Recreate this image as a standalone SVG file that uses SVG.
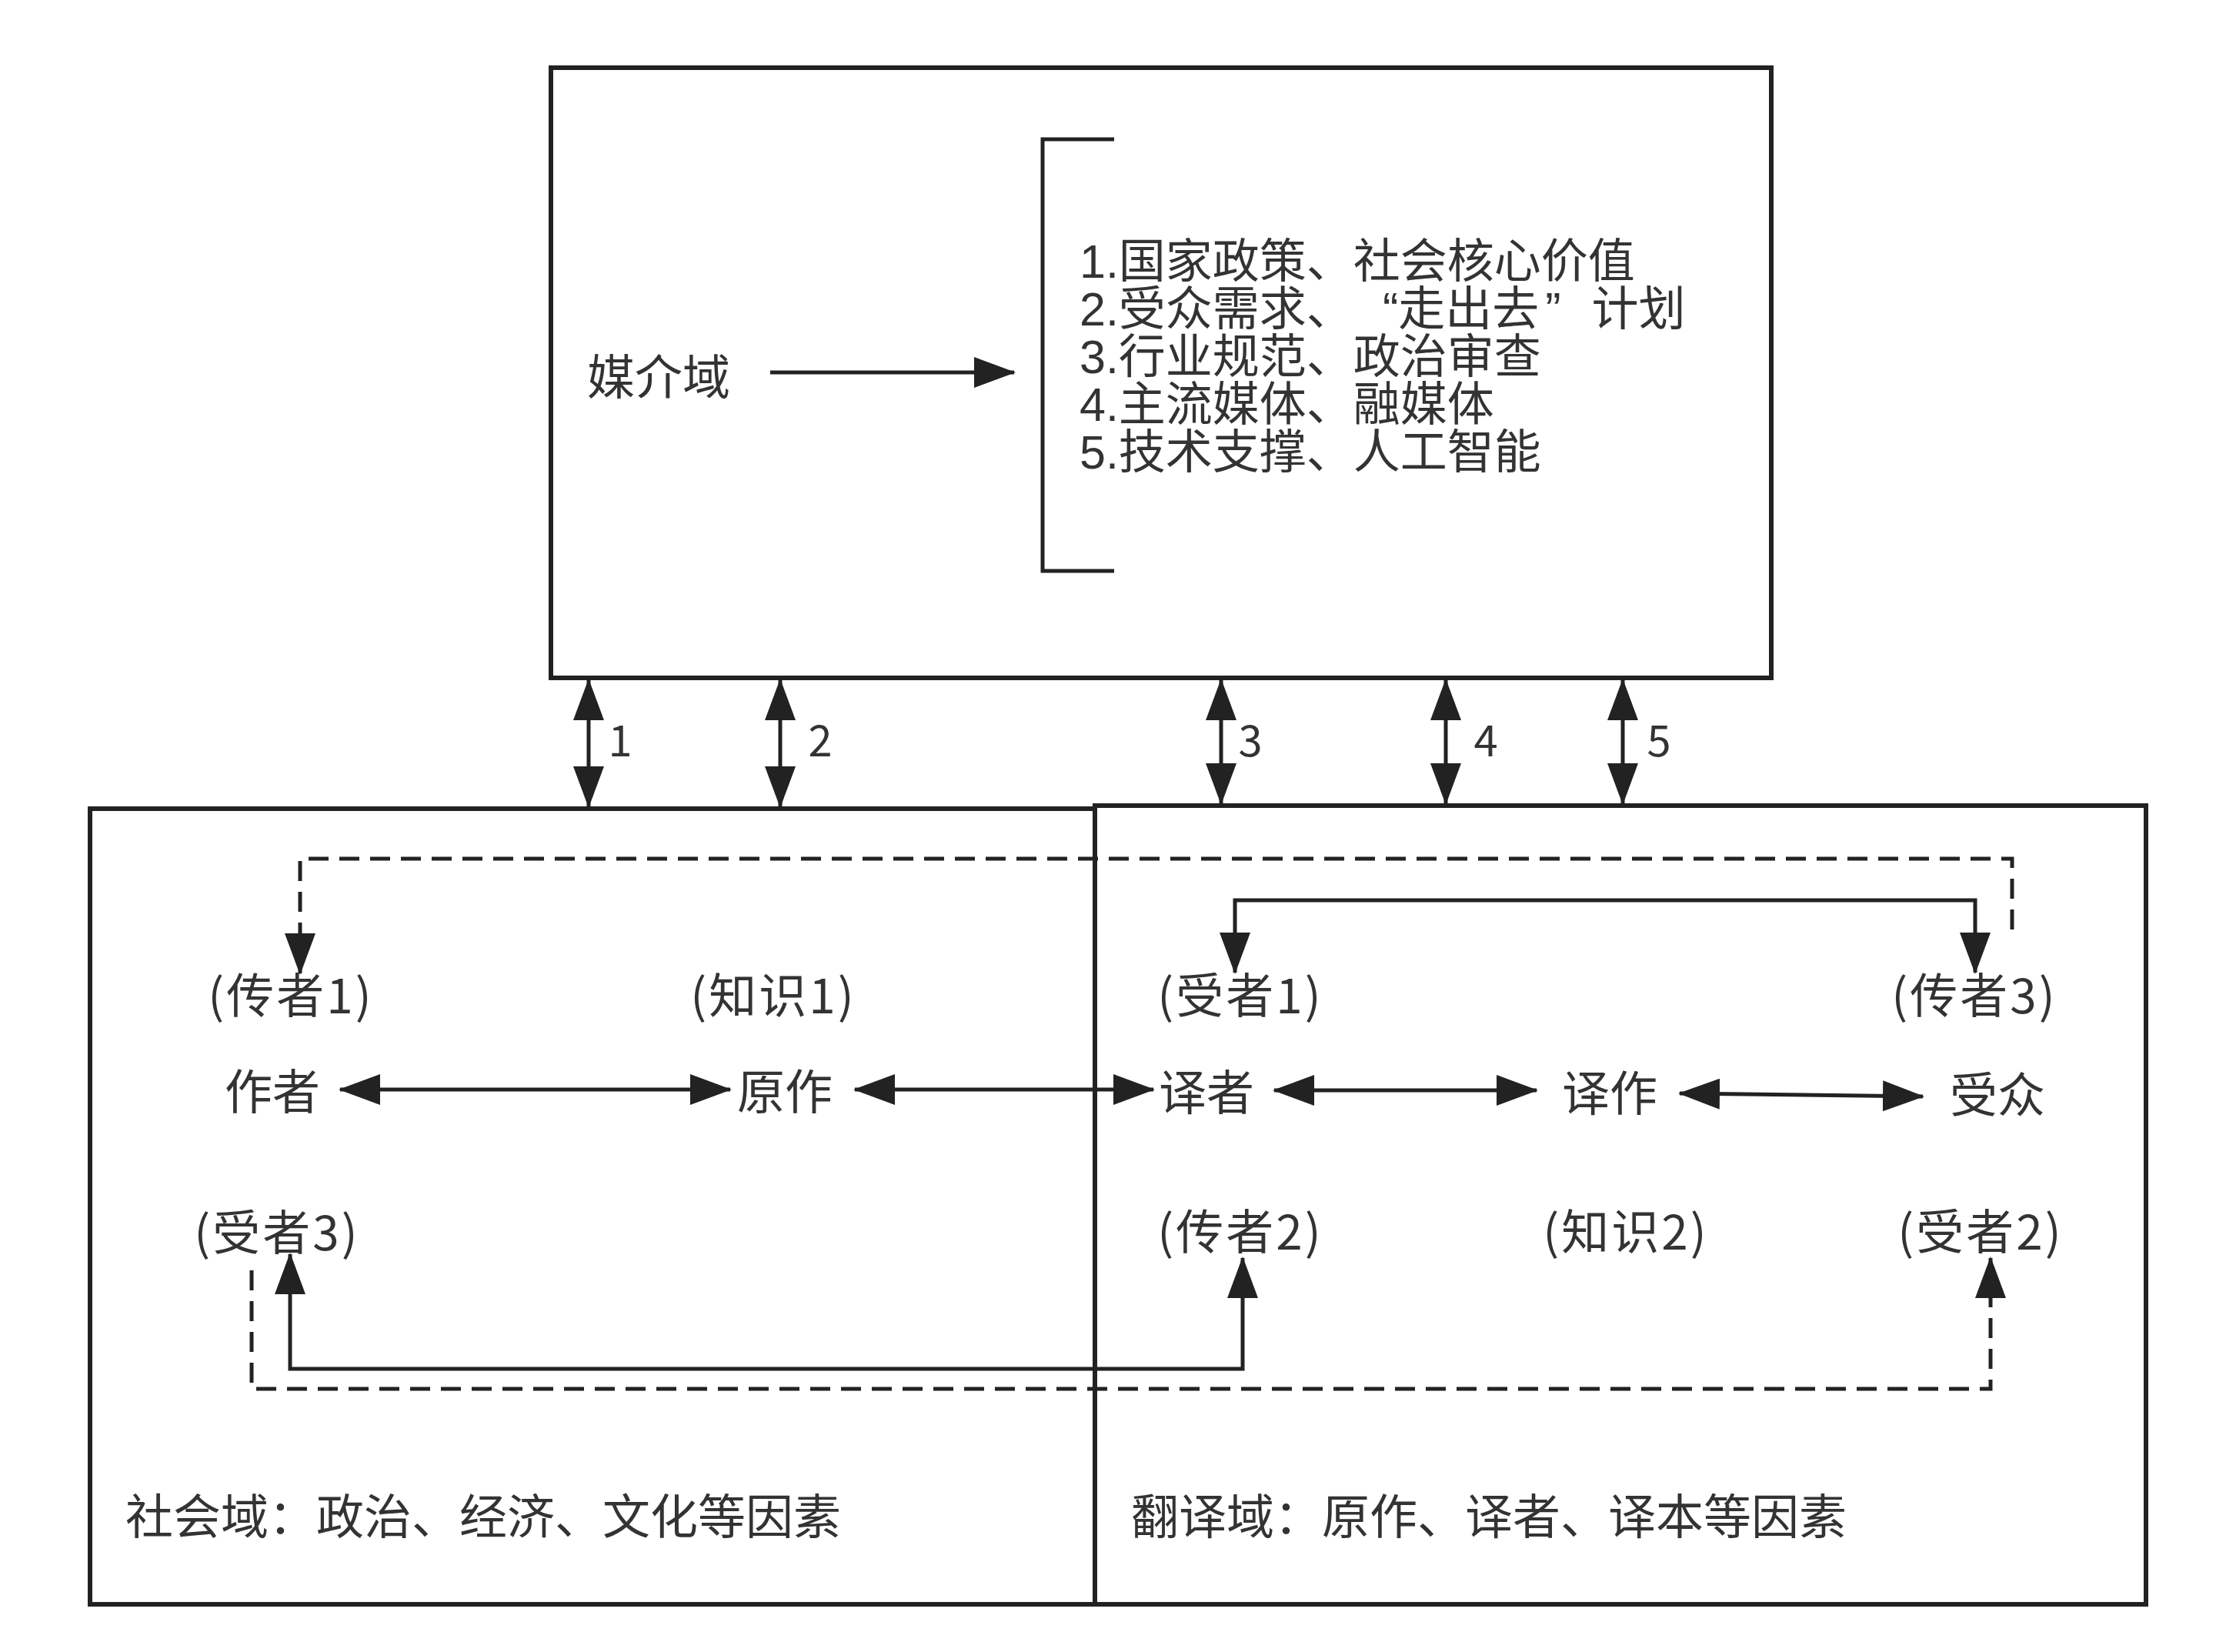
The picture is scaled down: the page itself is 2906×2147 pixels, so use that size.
<svg xmlns="http://www.w3.org/2000/svg" width="2906" height="2147" viewBox="0 0 2906 2147">
<style>
.box{fill:none;stroke:#222;stroke-width:6}
.ln{fill:none;stroke:#222;stroke-width:5}
.dash{fill:none;stroke:#222;stroke-width:5;stroke-dasharray:26 14}
.t{font-family:"Noto Sans CJK SC","Noto Sans",sans-serif;font-size:62px;fill:#333;dominant-baseline:central}
.l{font-family:"Liberation Sans","Noto Sans CJK SC",sans-serif;font-size:61px;fill:#333}
.c{text-anchor:middle}
.p{letter-spacing:3px}
.n{font-family:"Noto Sans CJK SC","Noto Sans",sans-serif;font-size:56px;fill:#333;dominant-baseline:central;text-anchor:middle}
</style>
<defs>
<marker id="ah" markerUnits="userSpaceOnUse" viewBox="0 0 54 40" markerWidth="54" markerHeight="40" refX="52" refY="20" orient="auto-start-reverse">
<path d="M0,0 L54,20 L0,40 z" fill="#222"/>
</marker>
</defs>
<rect width="2906" height="2147" fill="#fff"/>
<g id="media-domain">
<rect class="box" x="716" y="88" width="1586" height="793"/>
<text class="t" x="763" y="486">媒介域</text>
<path class="ln" d="M1448,181 H1355 V742 H1448"/>
<text class="l" x="1403" y="361">1.国家政策、社会核心价值</text>
<text class="l" x="1403" y="423">2.受众需求、<tspan dx="38">“走出去</tspan><tspan dx="8">”</tspan><tspan dx="40">计划</tspan></text>
<text class="l" x="1403" y="485">3.行业规范、政治审查</text>
<text class="l" x="1403" y="547">4.主流媒体、融媒体</text>
<text class="l" x="1403" y="609">5.技术支撑、人工智能</text>
</g>
<g id="social-domain">
<rect class="box" x="117" y="1051" width="1306" height="1034"/>
<text class="t" x="163" y="1967">社会域：政治、经济、文化等因素</text>
</g>
<g id="translation-domain">
<rect class="box" x="1423" y="1047" width="1366" height="1038"/>
<text class="t" x="1470" y="1967">翻译域：原作、译者、译本等因素</text>
</g>
<g id="node-chuanzhe1"><text class="t c p" x="378" y="1290">(传者1)</text></g>
<g id="node-zhishi1"><text class="t c p" x="1005" y="1290">(知识1)</text></g>
<g id="node-shouzhe1"><text class="t c p" x="1612" y="1290">(受者1)</text></g>
<g id="node-chuanzhe3"><text class="t c p" x="2566" y="1290">(传者3)</text></g>
<g id="node-zuozhe"><text class="t c" x="354" y="1415">作者</text></g>
<g id="node-yuanzuo"><text class="t c" x="1020" y="1415">原作</text></g>
<g id="node-yizhe"><text class="t c" x="1568" y="1416">译者</text></g>
<g id="node-yizuo"><text class="t c" x="2092" y="1417">译作</text></g>
<g id="node-shouzhong"><text class="t c" x="2596" y="1419">受众</text></g>
<g id="node-shouzhe3"><text class="t c p" x="360" y="1598">(受者3)</text></g>
<g id="node-chuanzhe2"><text class="t c p" x="1612" y="1597">(传者2)</text></g>
<g id="node-zhishi2"><text class="t c p" x="2113" y="1597">(知识2)</text></g>
<g id="node-shouzhe2"><text class="t c p" x="2574" y="1597">(受者2)</text></g>
<g id="connectors">
<line class="ln" x1="1001" y1="484" x2="1318" y2="484" marker-end="url(#ah)"/>
<line class="ln" x1="765" y1="884" x2="765" y2="1048" marker-start="url(#ah)" marker-end="url(#ah)"/>
<line class="ln" x1="1014" y1="884" x2="1014" y2="1048" marker-start="url(#ah)" marker-end="url(#ah)"/>
<line class="ln" x1="1587" y1="884" x2="1587" y2="1044" marker-start="url(#ah)" marker-end="url(#ah)"/>
<line class="ln" x1="1879" y1="884" x2="1879" y2="1044" marker-start="url(#ah)" marker-end="url(#ah)"/>
<line class="ln" x1="2109" y1="884" x2="2109" y2="1044" marker-start="url(#ah)" marker-end="url(#ah)"/>
<text class="n" x="806" y="958">1</text>
<text class="n" x="1066" y="958">2</text>
<text class="n" x="1625" y="958">3</text>
<text class="n" x="1931" y="958">4</text>
<text class="n" x="2156" y="958">5</text>
<line class="ln" x1="442" y1="1416" x2="949" y2="1416" marker-start="url(#ah)" marker-end="url(#ah)"/>
<line class="ln" x1="1111" y1="1416" x2="1499" y2="1416" marker-start="url(#ah)" marker-end="url(#ah)"/>
<line class="ln" x1="1656" y1="1417" x2="1997" y2="1417" marker-start="url(#ah)" marker-end="url(#ah)"/>
<line class="ln" x1="2183" y1="1421" x2="2499" y2="1425" marker-start="url(#ah)" marker-end="url(#ah)"/>
<path class="dash" d="M390,1265 V1116 H2615 V1218" marker-start="url(#ah)"/>
<path class="ln" d="M1605,1264 V1170 H2567 V1264" marker-start="url(#ah)" marker-end="url(#ah)"/>
<path class="ln" d="M377,1630 V1779 H1615 V1635" marker-start="url(#ah)" marker-end="url(#ah)"/>
<path class="dash" d="M327,1651 V1805 H2587 V1635" marker-end="url(#ah)"/>
</g>
</svg>
